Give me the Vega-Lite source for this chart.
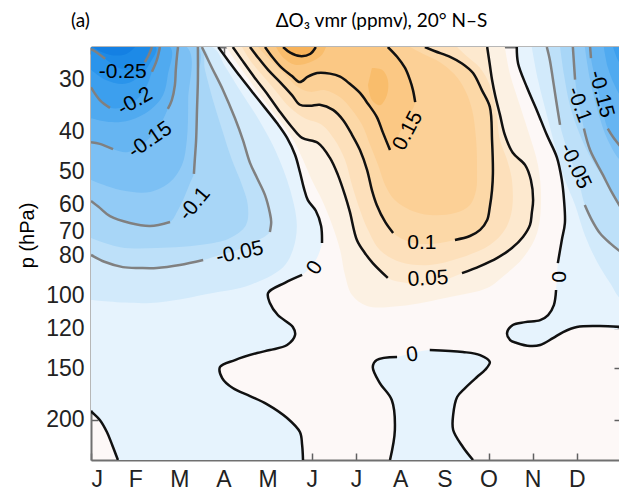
{
"$schema":"https://vega.github.io/schema/vega-lite/v6.json",
"width":530,"height":413,
"autosize":{"type":"none"},
"padding":{"left":91,"top":47,"right":0,"bottom":33},
"background":"white",
"config":{"view":{"fill":"#fdf8f7","stroke":null},
"axis":{"domainColor":"#707070","domainWidth":2,"tickColor":"#606060","tickWidth":1.5,"tickSize":-7,"grid":false,"labelFont":"Liberation Sans","labelFontSize":23,"labelColor":"#222","zindex":1}},
"datasets":{
"c":[
{"g":"n0a","m":0,"p":25},
{"g":"n0a","m":2.88,"p":25,"s":"z1a"},{"g":"n0a","m":3.1,"p":26.9,"s":"z1a"},{"g":"n0a","m":3.37,"p":29.4,"s":"z1a"},{"g":"n0a","m":3.67,"p":32.3,"s":"z1a"},{"g":"n0a","m":3.94,"p":35.1,"s":"z1a"},{"g":"n0a","m":4.21,"p":38.2,"s":"z1a"},{"g":"n0a","m":4.44,"p":41.5,"s":"z1a"},{"g":"n0a","m":4.62,"p":45.6,"s":"z1a"},{"g":"n0a","m":4.73,"p":50.2,"s":"z1a"},{"g":"n0a","m":4.82,"p":54.9,"s":"z1a"},{"g":"n0a","m":4.91,"p":58.7,"s":"z1a"},{"g":"n0a","m":5.09,"p":62.3,"s":"z1a"},{"g":"n0a","m":5.21,"p":67.8,"s":"z1a"},{"g":"n0a","m":5.23,"p":74.6,"s":"z1a"},
{"g":"n0a","m":5.09,"p":82},{"g":"n0a","m":4.91,"p":86.7},
{"g":"n0a","m":4.78,"p":89.1,"s":"z1b"},{"g":"n0a","m":4.39,"p":93.1,"s":"z1b"},{"g":"n0a","m":4.01,"p":98.5,"s":"z1b"},{"g":"n0a","m":4.05,"p":104.2,"s":"z1b"},{"g":"n0a","m":4.23,"p":111.4,"s":"z1b"},{"g":"n0a","m":4.57,"p":119.1,"s":"z1b"},{"g":"n0a","m":4.62,"p":124.6,"s":"z1b"},{"g":"n0a","m":4.44,"p":131.7,"s":"z1b"},{"g":"n0a","m":4.05,"p":135.4,"s":"z1b"},{"g":"n0a","m":3.76,"p":137.7,"s":"z1b"},{"g":"n0a","m":3.26,"p":143.2,"s":"z1b"},{"g":"n0a","m":2.92,"p":148.9,"s":"z1b"},{"g":"n0a","m":2.97,"p":158.3,"s":"z1b"},{"g":"n0a","m":3.21,"p":167.4,"s":"z1b"},{"g":"n0a","m":3.6,"p":175,"s":"z1b"},{"g":"n0a","m":3.98,"p":183,"s":"z1b"},{"g":"n0a","m":4.44,"p":197.8,"s":"z1b"},{"g":"n0a","m":4.73,"p":213.9,"s":"z1b"},{"g":"n0a","m":4.78,"p":229.9,"s":"z1b"},{"g":"n0a","m":4.8,"p":250,"s":"z1b"},
{"g":"n0a","m":0.61,"p":250,"s":"z4"},{"g":"n0a","m":0.48,"p":229.9,"s":"z4"},{"g":"n0a","m":0.36,"p":213.9,"s":"z4"},{"g":"n0a","m":0.2,"p":200,"s":"z4"},{"g":"n0a","m":0.02,"p":191.3,"s":"z4"},{"g":"n0a","m":0,"p":190,"s":"z4"},
{"g":"n0b","m":6.77,"p":250,"s":"z3a"},{"g":"n0b","m":6.88,"p":211.5,"s":"z3a"},{"g":"n0b","m":6.81,"p":178.9,"s":"z3a"},{"g":"n0b","m":6.54,"p":162.8,"s":"z3a"},{"g":"n0b","m":6.38,"p":148.9,"s":"z3a"},{"g":"n0b","m":6.47,"p":143.2,"s":"z3a"},{"g":"n0b","m":6.93,"p":140.8,"s":"z3a"},
{"g":"n0b","m":7.27,"p":137.7},
{"g":"n0b","m":7.67,"p":135.4,"s":"z3b"},{"g":"n0b","m":8.42,"p":136.9,"s":"z3b"},{"g":"n0b","m":8.81,"p":139.3,"s":"z3b"},{"g":"n0b","m":9.03,"p":144.8,"s":"z3b"},{"g":"n0b","m":8.92,"p":151.4,"s":"z3b"},{"g":"n0b","m":8.74,"p":157.4,"s":"z3b"},{"g":"n0b","m":8.47,"p":167.4,"s":"z3b"},{"g":"n0b","m":8.29,"p":176,"s":"z3b"},{"g":"n0b","m":8.2,"p":194.5,"s":"z3b"},{"g":"n0b","m":8.2,"p":211.5,"s":"z3b"},{"g":"n0b","m":8.42,"p":232.5,"s":"z3b"},{"g":"n0b","m":8.65,"p":250,"s":"z3b"},
{"g":"n0c","m":9.64,"p":25,"s":"z2a"},{"g":"n0c","m":9.67,"p":27.4,"s":"z2a"},{"g":"n0c","m":9.87,"p":31.3,"s":"z2a"},{"g":"n0c","m":10.1,"p":35.7,"s":"z2a"},{"g":"n0c","m":10.32,"p":40.8,"s":"z2a"},{"g":"n0c","m":10.55,"p":46.3,"s":"z2a"},{"g":"n0c","m":10.66,"p":52.5,"s":"z2a"},{"g":"n0c","m":10.71,"p":58.7,"s":"z2a"},{"g":"n0c","m":10.73,"p":66.7,"s":"z2a"},{"g":"n0c","m":10.66,"p":73.3,"s":"z2a"},{"g":"n0c","m":10.57,"p":83.4,"s":"z2a"},
{"g":"n0c","m":10.55,"p":90.1},
{"g":"n0c","m":10.53,"p":96.9,"s":"z2b"},{"g":"n0c","m":10.48,"p":105.4,"s":"z2b"},{"g":"n0c","m":10.35,"p":111.4,"s":"z2b"},{"g":"n0c","m":10.17,"p":114.6,"s":"z2b"},{"g":"n0c","m":9.83,"p":115.9,"s":"z2b"},{"g":"n0c","m":9.55,"p":117.8,"s":"z2b"},{"g":"n0c","m":9.42,"p":123.2,"s":"z2b"},{"g":"n0c","m":9.49,"p":128.1,"s":"z2b"},{"g":"n0c","m":9.64,"p":130.2,"s":"z2b"},{"g":"n0c","m":9.94,"p":132.4,"s":"z2b"},{"g":"n0c","m":10.17,"p":131.7,"s":"z2b"},{"g":"n0c","m":10.46,"p":126.7,"s":"z2b"},{"g":"n0c","m":10.69,"p":122.5,"s":"z2b"},{"g":"n0c","m":11,"p":119.1,"s":"z2b"},{"g":"n0c","m":11.52,"p":118.5,"s":"z2b"},{"g":"n0c","m":12,"p":119.1,"s":"z2b"},
{"g":"n0c","m":12,"p":25},
{"g":"n025a","m":0,"p":25},{"g":"n025a","m":2.74,"p":25},{"g":"n025a","m":3.03,"p":27.8},{"g":"n025a","m":3.37,"p":31.8},{"g":"n025a","m":3.78,"p":37.2},{"g":"n025a","m":4.17,"p":44.4},{"g":"n025a","m":4.51,"p":55.5},{"g":"n025a","m":4.66,"p":67.4},{"g":"n025a","m":4.57,"p":77.5},{"g":"n025a","m":4.35,"p":85.3},{"g":"n025a","m":3.6,"p":94.2},{"g":"n025a","m":2.76,"p":98.5},{"g":"n025a","m":1.34,"p":104.2},{"g":"n025a","m":0,"p":102.5},
{"g":"n025c","m":9.98,"p":25},{"g":"n025c","m":10.12,"p":30},{"g":"n025c","m":10.32,"p":36.5},{"g":"n025c","m":10.53,"p":44.4},{"g":"n025c","m":10.73,"p":52.5},{"g":"n025c","m":10.96,"p":60.3},{"g":"n025c","m":11.18,"p":71.3},{"g":"n025c","m":11.46,"p":82.9},{"g":"n025c","m":11.75,"p":93.1},{"g":"n025c","m":12,"p":101.3},{"g":"n025c","m":12,"p":25},
{"g":"n05a","m":0,"p":25},
{"g":"n05a","m":2.51,"p":25,"s":"n05b"},{"g":"n05a","m":2.74,"p":28.1,"s":"n05b"},{"g":"n05a","m":2.99,"p":31.8,"s":"n05b"},{"g":"n05a","m":3.26,"p":37.2,"s":"n05b"},{"g":"n05a","m":3.44,"p":42,"s":"n05b"},{"g":"n05a","m":3.6,"p":47.7,"s":"n05b"},{"g":"n05a","m":3.76,"p":51.9,"s":"n05b"},{"g":"n05a","m":3.94,"p":57.1,"s":"n05b"},{"g":"n05a","m":4.05,"p":63.1,"s":"n05b"},{"g":"n05a","m":4.08,"p":66.3,"s":"n05b"},{"g":"n05a","m":4.05,"p":70.1,"s":"n05b"},
{"g":"n05a","m":3.71,"p":74.1},{"g":"n05a","m":3.37,"p":77.1},{"g":"n05a","m":2.92,"p":79.7},
{"g":"n05a","m":2.54,"p":82,"s":"n05a"},{"g":"n05a","m":2.01,"p":84.3,"s":"n05a"},{"g":"n05a","m":1.49,"p":85.7,"s":"n05a"},{"g":"n05a","m":1.11,"p":85.7,"s":"n05a"},{"g":"n05a","m":0.72,"p":85.3,"s":"n05a"},{"g":"n05a","m":0.32,"p":82.9,"s":"n05a"},{"g":"n05a","m":0,"p":79.7,"s":"n05a"},
{"g":"n05c","m":10.32,"p":25,"s":"n05c"},{"g":"n05c","m":10.39,"p":26.9,"s":"n05c"},{"g":"n05c","m":10.46,"p":30,"s":"n05c"},{"g":"n05c","m":10.53,"p":33.6,"s":"n05c"},{"g":"n05c","m":10.62,"p":38.6,"s":"n05c"},
{"g":"n05c","m":10.75,"p":43.2},{"g":"n05c","m":10.91,"p":48.3},{"g":"n05c","m":11.07,"p":54.6},
{"g":"n05c","m":11.18,"p":60.3,"s":"n05d"},{"g":"n05c","m":11.34,"p":65.6,"s":"n05d"},{"g":"n05c","m":11.52,"p":70.5,"s":"n05d"},{"g":"n05c","m":11.75,"p":74.6,"s":"n05d"},{"g":"n05c","m":12,"p":78.4,"s":"n05d"},
{"g":"n05c","m":12,"p":25},
{"g":"n075a","m":0,"p":25},{"g":"n075a","m":2.47,"p":25},{"g":"n075a","m":2.58,"p":28.4},{"g":"n075a","m":2.76,"p":33.6},{"g":"n075a","m":2.97,"p":39.7},{"g":"n075a","m":3.19,"p":46.9},{"g":"n075a","m":3.42,"p":54},{"g":"n075a","m":3.55,"p":60.3},{"g":"n075a","m":3.51,"p":67.4},{"g":"n075a","m":3.15,"p":72.5},{"g":"n075a","m":2.63,"p":75},{"g":"n075a","m":1.49,"p":76.7},{"g":"n075a","m":0.66,"p":76.3},{"g":"n075a","m":0,"p":72.5},
{"g":"n075c","m":10.62,"p":25},{"g":"n075c","m":10.71,"p":29.2},{"g":"n075c","m":10.84,"p":34.5},{"g":"n075c","m":11.07,"p":40.8},{"g":"n075c","m":11.34,"p":46.9},{"g":"n075c","m":11.66,"p":52.5},{"g":"n075c","m":12,"p":56.1},{"g":"n075c","m":12,"p":25},
{"g":"n10a","m":0,"p":25},
{"g":"n10a","m":2.42,"p":25,"s":"n10b"},{"g":"n10a","m":2.42,"p":30,"s":"n10b"},{"g":"n10a","m":2.4,"p":35.5,"s":"n10b"},{"g":"n10a","m":2.38,"p":42,"s":"n10b"},{"g":"n10a","m":2.35,"p":46.9,"s":"n10b"},{"g":"n10a","m":2.33,"p":50.7,"s":"n10b"},
{"g":"n10a","m":2.24,"p":53.4},{"g":"n10a","m":2.13,"p":57.1},{"g":"n10a","m":1.97,"p":62},
{"g":"n10a","m":1.79,"p":66.3,"s":"n10a"},{"g":"n10a","m":1.34,"p":67.8,"s":"n10a"},{"g":"n10a","m":0.88,"p":66.7,"s":"n10a"},{"g":"n10a","m":0.43,"p":64.2,"s":"n10a"},{"g":"n10a","m":0.2,"p":61.3,"s":"n10a"},{"g":"n10a","m":0,"p":59,"s":"n10a"},
{"g":"n10c","m":10.91,"p":25,"s":"n10c"},{"g":"n10c","m":10.93,"p":26.9,"s":"n10c"},{"g":"n10c","m":10.96,"p":30,"s":"n10c"},
{"g":"n10c","m":11.05,"p":34.5},
{"g":"n10c","m":11.16,"p":39.4,"s":"n10d"},{"g":"n10c","m":11.3,"p":44.4,"s":"n10d"},{"g":"n10c","m":11.59,"p":51,"s":"n10d"},{"g":"n10c","m":11.8,"p":56.4,"s":"n10d"},{"g":"n10c","m":12,"p":61.3,"s":"n10d"},
{"g":"n10c","m":12,"p":25},
{"g":"n125a","m":0,"p":25},{"g":"n125a","m":2.17,"p":25},{"g":"n125a","m":2.2,"p":33.6},{"g":"n125a","m":2.17,"p":42},{"g":"n125a","m":2.06,"p":48.3},{"g":"n125a","m":1.79,"p":53.1},{"g":"n125a","m":1.34,"p":56.1},{"g":"n125a","m":0.66,"p":55.5},{"g":"n125a","m":0,"p":52.5},
{"g":"n125c","m":11.18,"p":25},{"g":"n125c","m":11.3,"p":30},{"g":"n125c","m":11.48,"p":35.9},{"g":"n125c","m":11.7,"p":42},{"g":"n125c","m":12,"p":46.9},{"g":"n125c","m":12,"p":25},
{"g":"n15a","m":0,"p":25},
{"g":"n15a","m":1.97,"p":25,"s":"n15b"},{"g":"n15a","m":1.95,"p":26.1,"s":"n15b"},{"g":"n15a","m":1.92,"p":28.4,"s":"n15b"},{"g":"n15a","m":1.9,"p":30.9,"s":"n15b"},{"g":"n15a","m":1.83,"p":33.6,"s":"n15b"},{"g":"n15a","m":1.74,"p":35.3,"s":"n15b"},
{"g":"n15a","m":1.56,"p":38.6},{"g":"n15a","m":1.22,"p":42.5},{"g":"n15a","m":0.84,"p":44.9},
{"g":"n15a","m":0.5,"p":44.2,"s":"n15a"},{"g":"n15a","m":0.2,"p":42.9,"s":"n15a"},{"g":"n15a","m":0,"p":42.5,"s":"n15a"},
{"g":"n15c","m":11.3,"p":25,"s":"n15c"},{"g":"n15c","m":11.32,"p":26.6,"s":"n15c"},
{"g":"n15c","m":11.48,"p":31.8},
{"g":"n15c","m":11.7,"p":39.4,"s":"n15d"},{"g":"n15c","m":11.82,"p":41.3,"s":"n15d"},{"g":"n15c","m":12,"p":43.7,"s":"n15d"},
{"g":"n15c","m":12,"p":25},
{"g":"n175a","m":0,"p":25},{"g":"n175a","m":1.79,"p":25},{"g":"n175a","m":1.74,"p":29.2},{"g":"n175a","m":1.63,"p":32.7},{"g":"n175a","m":1.34,"p":35.5},{"g":"n175a","m":0.88,"p":37.6},{"g":"n175a","m":0.43,"p":38},{"g":"n175a","m":0,"p":37.2},
{"g":"n175c","m":11.61,"p":25},{"g":"n175c","m":11.7,"p":28},{"g":"n175c","m":11.84,"p":30.7},{"g":"n175c","m":12,"p":32.8},{"g":"n175c","m":12,"p":25},
{"g":"n20a","m":0,"p":25},
{"g":"n20a","m":1.56,"p":25,"s":"n20b"},{"g":"n20a","m":1.49,"p":26.9,"s":"n20b"},{"g":"n20a","m":1.38,"p":28.7,"s":"n20b"},
{"g":"n20a","m":1.27,"p":30.9},{"g":"n20a","m":1.06,"p":33.3},{"g":"n20a","m":0.77,"p":34.9},
{"g":"n20a","m":0.43,"p":35.1,"s":"n20a"},{"g":"n20a","m":0.2,"p":33.6,"s":"n20a"},{"g":"n20a","m":0,"p":31.3,"s":"n20a"},
{"g":"n20c","m":11.82,"p":25},{"g":"n20c","m":11.91,"p":26.6},{"g":"n20c","m":12,"p":27.6},{"g":"n20c","m":12,"p":25},
{"g":"n225a","m":0,"p":25},{"g":"n225a","m":1.47,"p":25},{"g":"n225a","m":1.34,"p":27.3},{"g":"n225a","m":1.11,"p":29.4},{"g":"n225a","m":0.77,"p":30.7},{"g":"n225a","m":0.32,"p":30},{"g":"n225a","m":0,"p":28.4},
{"g":"n25a","m":0,"p":25},
{"g":"n25a","m":1.38,"p":25,"s":"n25b"},{"g":"n25a","m":1.31,"p":26.1,"s":"n25b"},{"g":"n25a","m":1.22,"p":27.2,"s":"n25b"},
{"g":"n25a","m":1.04,"p":28.1},{"g":"n25a","m":0.77,"p":28.4},{"g":"n25a","m":0.54,"p":27.8},
{"g":"n25a","m":0.32,"p":26.7,"s":"n25a"},{"g":"n25a","m":0.09,"p":25.6,"s":"n25a"},{"g":"n25a","m":0,"p":25.3,"s":"n25a"},
{"g":"n275a","m":0.05,"p":25},{"g":"n275a","m":0.2,"p":25.6},{"g":"n275a","m":0.5,"p":26.2},{"g":"n275a","m":0.8,"p":26},{"g":"n275a","m":1,"p":25},
{"g":"p025","m":3.06,"p":25},{"g":"p025","m":3.26,"p":26.9},{"g":"p025","m":3.55,"p":29.7},{"g":"p025","m":3.83,"p":32.7},{"g":"p025","m":4.12,"p":35.9},{"g":"p025","m":4.39,"p":39.1},{"g":"p025","m":4.62,"p":42.7},{"g":"p025","m":4.8,"p":46.9},{"g":"p025","m":5,"p":52.5},{"g":"p025","m":5.23,"p":58.7},{"g":"p025","m":5.46,"p":67.4},{"g":"p025","m":5.64,"p":77.5},{"g":"p025","m":5.75,"p":89.1},{"g":"p025","m":5.91,"p":99.6},{"g":"p025","m":6.25,"p":105.9},{"g":"p025","m":7,"p":105.9},{"g":"p025","m":8.13,"p":100.7},{"g":"p025","m":8.97,"p":95.8},{"g":"p025","m":9.37,"p":89.1},{"g":"p025","m":9.78,"p":81.1},{"g":"p025","m":10.1,"p":70.5},{"g":"p025","m":10.19,"p":58.7},{"g":"p025","m":10.12,"p":48.3},{"g":"p025","m":9.89,"p":39.7},{"g":"p025","m":9.67,"p":33.6},{"g":"p025","m":9.49,"p":29.2},{"g":"p025","m":9.37,"p":25},
{"g":"p05","m":3.21,"p":25,"s":"p05a"},{"g":"p05","m":3.42,"p":26.9,"s":"p05a"},{"g":"p05","m":3.71,"p":29.7,"s":"p05a"},{"g":"p05","m":4.01,"p":32.7,"s":"p05a"},{"g":"p05","m":4.28,"p":35.9,"s":"p05a"},{"g":"p05","m":4.55,"p":39.1,"s":"p05a"},{"g":"p05","m":4.78,"p":41.5,"s":"p05a"},{"g":"p05","m":5.14,"p":42.7,"s":"p05a"},{"g":"p05","m":5.41,"p":46.4,"s":"p05a"},{"g":"p05","m":5.59,"p":51,"s":"p05a"},{"g":"p05","m":5.75,"p":57.1,"s":"p05a"},{"g":"p05","m":5.86,"p":62.6,"s":"p05a"},{"g":"p05","m":6.02,"p":73.3,"s":"p05a"},{"g":"p05","m":6.2,"p":78.8,"s":"p05a"},{"g":"p05","m":6.38,"p":83.4,"s":"p05a"},{"g":"p05","m":6.72,"p":90.6,"s":"p05a"},
{"g":"p05","m":7.11,"p":93.1},{"g":"p05","m":7.56,"p":94.2},{"g":"p05","m":8.01,"p":91.6},
{"g":"p05","m":8.4,"p":88.2,"s":"p05b"},{"g":"p05","m":8.81,"p":84.8,"s":"p05b"},{"g":"p05","m":9.19,"p":81.1,"s":"p05b"},{"g":"p05","m":9.53,"p":76.7,"s":"p05b"},{"g":"p05","m":9.78,"p":72.1,"s":"p05b"},{"g":"p05","m":9.94,"p":67.4,"s":"p05b"},{"g":"p05","m":9.98,"p":63.1,"s":"p05b"},{"g":"p05","m":10.01,"p":58.7,"s":"p05b"},{"g":"p05","m":9.96,"p":52.5,"s":"p05b"},{"g":"p05","m":9.83,"p":48.3,"s":"p05b"},{"g":"p05","m":9.55,"p":45.1,"s":"p05b"},{"g":"p05","m":9.37,"p":40.8,"s":"p05b"},{"g":"p05","m":9.26,"p":36.5,"s":"p05b"},{"g":"p05","m":9.15,"p":32.7,"s":"p05b"},{"g":"p05","m":9.08,"p":30,"s":"p05b"},{"g":"p05","m":9.03,"p":27.6,"s":"p05b"},{"g":"p05","m":8.97,"p":25,"s":"p05b"},
{"g":"p075","m":3.42,"p":25},{"g":"p075","m":3.6,"p":26.9},{"g":"p075","m":3.87,"p":29.2},{"g":"p075","m":4.17,"p":31.8},{"g":"p075","m":4.51,"p":35.1},{"g":"p075","m":4.84,"p":37.2},{"g":"p075","m":5.23,"p":38.6},{"g":"p075","m":5.52,"p":42},{"g":"p075","m":5.75,"p":46.9},{"g":"p075","m":5.91,"p":54},{"g":"p075","m":6.09,"p":62},{"g":"p075","m":6.27,"p":69.3},{"g":"p075","m":6.54,"p":77.5},{"g":"p075","m":7,"p":82.9},{"g":"p075","m":7.67,"p":84.3},{"g":"p075","m":8.35,"p":81.1},{"g":"p075","m":9.03,"p":75.4},{"g":"p075","m":9.37,"p":69.3},{"g":"p075","m":9.53,"p":62},{"g":"p075","m":9.53,"p":52.5},{"g":"p075","m":9.42,"p":46.9},{"g":"p075","m":9.26,"p":42},{"g":"p075","m":9.17,"p":35.5},{"g":"p075","m":9.03,"p":30.9},{"g":"p075","m":8.81,"p":28.1},{"g":"p075","m":8.47,"p":26.1},{"g":"p075","m":8.29,"p":25},
{"g":"p10","m":3.6,"p":25,"s":"p10a"},{"g":"p10","m":3.78,"p":26.5,"s":"p10a"},{"g":"p10","m":4.01,"p":28.4,"s":"p10a"},{"g":"p10","m":4.28,"p":30.4,"s":"p10a"},{"g":"p10","m":4.55,"p":32.7,"s":"p10a"},{"g":"p10","m":4.73,"p":34.5,"s":"p10a"},{"g":"p10","m":4.96,"p":34.7,"s":"p10a"},{"g":"p10","m":5.18,"p":34.5,"s":"p10a"},{"g":"p10","m":5.48,"p":35.5,"s":"p10a"},{"g":"p10","m":5.71,"p":37.6,"s":"p10a"},{"g":"p10","m":5.91,"p":40.8,"s":"p10a"},{"g":"p10","m":6.09,"p":44.4,"s":"p10a"},{"g":"p10","m":6.25,"p":49.6,"s":"p10a"},{"g":"p10","m":6.36,"p":55.5,"s":"p10a"},{"g":"p10","m":6.47,"p":60.3,"s":"p10a"},{"g":"p10","m":6.66,"p":66.3,"s":"p10a"},{"g":"p10","m":6.84,"p":70.5,"s":"p10a"},
{"g":"p10","m":7.22,"p":74.1},{"g":"p10","m":7.67,"p":75},
{"g":"p10","m":8.24,"p":73.3,"s":"p10b"},{"g":"p10","m":8.58,"p":71.7,"s":"p10b"},{"g":"p10","m":8.81,"p":69.3,"s":"p10b"},{"g":"p10","m":8.97,"p":65.6,"s":"p10b"},{"g":"p10","m":9.03,"p":61,"s":"p10b"},{"g":"p10","m":9.08,"p":55.5,"s":"p10b"},{"g":"p10","m":9.1,"p":50.5,"s":"p10b"},{"g":"p10","m":9.08,"p":42,"s":"p10b"},{"g":"p10","m":9.03,"p":34.9,"s":"p10b"},{"g":"p10","m":8.85,"p":31.8,"s":"p10b"},{"g":"p10","m":8.65,"p":28.9,"s":"p10b"},{"g":"p10","m":8.4,"p":27.4,"s":"p10b"},{"g":"p10","m":8.13,"p":26.4,"s":"p10b"},{"g":"p10","m":7.79,"p":25.6,"s":"p10b"},{"g":"p10","m":7.56,"p":25,"s":"p10b"},
{"g":"p125","m":3.78,"p":25},{"g":"p125","m":3.94,"p":26.1},{"g":"p125","m":4.17,"p":27.6},{"g":"p125","m":4.44,"p":29.5},{"g":"p125","m":4.69,"p":31.3},{"g":"p125","m":4.96,"p":32.1},{"g":"p125","m":5.3,"p":31.8},{"g":"p125","m":5.64,"p":33.1},{"g":"p125","m":5.91,"p":35.5},{"g":"p125","m":6.14,"p":38.6},{"g":"p125","m":6.32,"p":43.2},{"g":"p125","m":6.5,"p":48.3},{"g":"p125","m":6.66,"p":54},{"g":"p125","m":6.88,"p":58.7},{"g":"p125","m":7.22,"p":62},{"g":"p125","m":7.67,"p":63.8},{"g":"p125","m":8.24,"p":63.1},{"g":"p125","m":8.58,"p":60.3},{"g":"p125","m":8.72,"p":55.5},{"g":"p125","m":8.74,"p":49.6},{"g":"p125","m":8.72,"p":42},{"g":"p125","m":8.63,"p":35.5},{"g":"p125","m":8.47,"p":31.8},{"g":"p125","m":8.24,"p":29.2},{"g":"p125","m":7.9,"p":27.2},{"g":"p125","m":7.56,"p":26.1},{"g":"p125","m":7.22,"p":25},
{"g":"p15","m":3.94,"p":25,"s":"p15a"},{"g":"p15","m":4.1,"p":26.4,"s":"p15a"},{"g":"p15","m":4.32,"p":28.1,"s":"p15a"},{"g":"p15","m":4.55,"p":29.4,"s":"p15a"},{"g":"p15","m":4.73,"p":30.4,"s":"p15a"},{"g":"p15","m":4.91,"p":29.5,"s":"p15a"},{"g":"p15","m":5.12,"p":28.9,"s":"p15a"},{"g":"p15","m":5.41,"p":29,"s":"p15a"},{"g":"p15","m":5.64,"p":29.5,"s":"p15a"},{"g":"p15","m":5.86,"p":30.7,"s":"p15a"},{"g":"p15","m":6.09,"p":32.3,"s":"p15a"},{"g":"p15","m":6.27,"p":34.3,"s":"p15a"},{"g":"p15","m":6.47,"p":36.9,"s":"p15a"},{"g":"p15","m":6.61,"p":40.3,"s":"p15a"},{"g":"p15","m":6.77,"p":44.4,"s":"p15a"},
{"g":"p15","m":6.93,"p":41.5},{"g":"p15","m":7.11,"p":38},
{"g":"p15","m":7.34,"p":34,"s":"p15b"},{"g":"p15","m":7.29,"p":31.8,"s":"p15b"},{"g":"p15","m":7.22,"p":30,"s":"p15b"},{"g":"p15","m":7.11,"p":28.1,"s":"p15b"},{"g":"p15","m":6.93,"p":26.4,"s":"p15b"},{"g":"p15","m":6.72,"p":25,"s":"p15b"},
{"g":"p175a","m":4.19,"p":25},{"g":"p175a","m":4.35,"p":26.5},{"g":"p175a","m":4.62,"p":27.6},{"g":"p175a","m":4.96,"p":27.2},{"g":"p175a","m":5.23,"p":26.1},{"g":"p175a","m":5.32,"p":25},
{"g":"p175b","m":6.36,"p":28.1},{"g":"p175b","m":6.59,"p":28.4},{"g":"p175b","m":6.72,"p":30},{"g":"p175b","m":6.7,"p":32.7},{"g":"p175b","m":6.54,"p":34.6},{"g":"p175b","m":6.36,"p":33.6},{"g":"p175b","m":6.27,"p":30.9},
{"g":"p20","m":4.35,"p":25,"s":"p20"},{"g":"p20","m":4.51,"p":25.8,"s":"p20"},{"g":"p20","m":4.73,"p":26.3,"s":"p20"},{"g":"p20","m":4.96,"p":26,"s":"p20"},{"g":"p20","m":5.09,"p":25,"s":"p20"}
],
"lab":[
{"t":"-0.25","m":0.72,"p":28.7,"a":0},
{"t":"-0.2","m":1.0,"p":33.9,"a":-30},
{"t":"-0.15","m":1.34,"p":42,"a":-35},
{"t":"-0.1","m":2.35,"p":60,"a":-50},
{"t":"-0.05","m":3.37,"p":78.8,"a":-12},
{"t":"0","m":5.07,"p":85.7,"a":-58},
{"t":"0.15","m":7.18,"p":39.9,"a":-62},
{"t":"0.1","m":7.49,"p":74.6,"a":0},
{"t":"0.05","m":7.63,"p":91.1,"a":-3},
{"t":"0","m":7.27,"p":139.3,"a":-8},
{"t":"0","m":10.57,"p":90.1,"a":90},
{"t":"-0.05","m":10.96,"p":48.6,"a":65},
{"t":"-0.1","m":11.05,"p":34.5,"a":70},
{"t":"-0.15","m":11.55,"p":32.5,"a":75}
]},
"layer":[
{"data":{"name":"c"},
"mark":{"type":"line","filled":true,"clip":true,"interpolate":"catmull-rom","strokeWidth":0},
"encoding":{
"x":{"field":"m","type":"quantitative","scale":{"domain":[0,12],"nice":false,"zero":false},
"axis":{"orient":"bottom","values":[0,1,2,3,4,5,6,7,8,9,10,11],"labelExpr":"['J','F','M','A','M','J','J','A','S','O','N','D'][datum.value]","labelPadding":15,"title":null}},
"y":{"field":"p","type":"quantitative","scale":{"type":"log","domain":[25,250],"reverse":true,"nice":false},
"axis":{"orient":"left","values":[30,40,50,60,70,80,90,100,120,150,200],"labelExpr":"datum.value==90?'':datum.label","labelPadding":14,"title":"p (hPa)","titleFont":"Liberation Sans","titleFontSize":20,"titleFontWeight":"normal","titleColor":"black","titleX":-64,"titleY":188,"titleAngle":-90,"titleAlign":"center","titleBaseline":"middle"}},
"color":{"field":"g","type":"nominal","legend":null,"scale":{
"domain":["n0a","n0b","n0c","n025a","n025c","n05a","n05c","n075a","n075c","n10a","n10c","n125a","n125c","n15a","n15c","n175a","n175c","n20a","n20c","n225a","n25a","n275a","p025","p05","p075","p10","p125","p15","p175a","p175b","p20"],
"range":["#e6f3fd","#e6f3fd","#e6f3fd","#d2eafb","#d2eafb","#bde0f9","#bde0f9","#a8d6f7","#a8d6f7","#92cbf6","#92cbf6","#7cc0f4","#7cc0f4","#66b5f2","#66b5f2","#50aaf0","#50aaf0","#3c9fee","#3c9fee","#2a94eb","#1d8ae7","#1480e3","#fcf1e3","#fde9cf","#fde0bb","#fcd8a7","#fcd096","#fbc884","#f9bd6c","#f9bd6c","#f7b259"]}},
"order":{"value":null}}},
{"data":{"name":"c"},"transform":[{"filter":"datum.s"}],
"mark":{"type":"line","clip":true,"interpolate":"catmull-rom","strokeWidth":2.5},
"encoding":{
"x":{"field":"m","type":"quantitative","scale":{"domain":[0,12],"nice":false,"zero":false},"axis":null},
"y":{"field":"p","type":"quantitative","scale":{"type":"log","domain":[25,250],"reverse":true,"nice":false},"axis":null},
"detail":{"field":"s"},
"color":{"condition":{"test":"indexof(datum.s,'n')==0","value":"#808080"},"value":"#111111"},
"order":{"value":null}}},
{"data":{"name":"lab"},
"mark":{"type":"text","font":"Liberation Sans","fontSize":21,"color":"black","align":"center","baseline":"middle"},
"encoding":{
"x":{"field":"m","type":"quantitative","scale":{"domain":[0,12],"nice":false,"zero":false},
"axis":{"orient":"top","values":[0,1,2,3,4,5,6,7,8,9,10,11],"labels":false,"title":"ΔO₃ vmr (ppmv),  20° N–S","titleX":290,"titleY":-27,"titleAlign":"center","titleBaseline":"middle","titleFont":"Lato","titleFontSize":19,"titleFontWeight":"normal","titleColor":"black","titleAngle":0}},
"y":{"field":"p","type":"quantitative","scale":{"type":"log","domain":[25,250],"reverse":true,"nice":false},
"axis":{"orient":"right","values":[30,40,50,60,70,80,90,100,120,150,200],"labels":false,"title":"(a)","titleX":-541,"titleY":-27,"titleAngle":0,"titleAlign":"center","titleBaseline":"middle","titleFont":"Lato","titleFontSize":19,"titleFontWeight":"normal","titleColor":"black"}},
"text":{"field":"t"},
"angle":{"field":"a","type":"quantitative","scale":null}}}
],
"resolve":{"axis":{"x":"independent","y":"independent"}}
}
